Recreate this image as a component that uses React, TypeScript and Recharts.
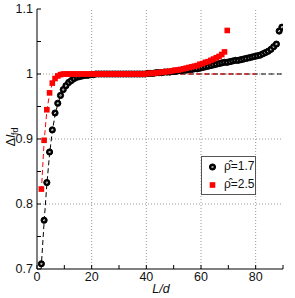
import React from "react";
import { ScatterChart, Scatter, XAxis, YAxis, ReferenceLine } from "recharts";

const ldPositions = [
  1.6, 2.6, 3.6, 4.6, 5.6, 6.6, 7.6, 8.6, 9.6, 10.6, 11.6, 12.6, 13.6, 14.6, 15.6, 16.6, 17.6, 18.6, 19.6, 20.6,
  21.6, 22.6, 23.6, 24.6, 25.6, 26.6, 27.6, 28.6, 29.6, 30.6, 31.6, 32.6, 33.6, 34.6, 35.6, 36.6, 37.6, 38.6, 39.6,
  40.6, 41.6, 42.6, 43.6, 44.6, 45.6, 46.6, 47.6, 48.6, 49.6, 50.6, 51.6, 52.6, 53.6, 54.6, 55.6, 56.6, 57.6, 58.6,
  59.6, 60.6, 61.6, 62.6, 63.6, 64.6, 65.6, 66.6, 67.6, 68.6, 69.6, 70.6, 71.6, 72.6, 73.6, 74.6, 75.6, 76.6, 77.6,
  78.6, 79.6, 80.6, 81.6, 82.6, 83.6, 84.6, 85.6, 86.6, 87.6, 88.6, 89.6,
];

const blackValues = [
  0.708, 0.775, 0.833, 0.88, 0.914, 0.94, 0.955, 0.967, 0.976, 0.982,
  0.987, 0.99, 0.993, 0.995, 0.996, 0.997, 0.998, 0.998, 0.999, 0.999,
  1.0, 1.0, 1.0, 1.0, 1.0, 1.0, 1.0, 1.0, 1.0, 1.0, 1.0, 1.0, 1.0, 1.0, 1.0, 1.0, 1.0, 1.0, 1.0,
  1.001, 1.001, 1.001, 1.002, 1.002, 1.002, 1.003, 1.003, 1.003, 1.004,
  1.004, 1.005, 1.005, 1.006, 1.006, 1.007, 1.007, 1.008, 1.008, 1.009,
  1.01, 1.011, 1.012, 1.013, 1.014, 1.015, 1.016, 1.017, 1.018, 1.018,
  1.019, 1.02, 1.021, 1.021, 1.022, 1.023, 1.024, 1.025, 1.026, 1.027,
  1.028, 1.029, 1.031, 1.033, 1.035, 1.038, 1.042, 1.046, 1.066, 1.072,
];

const redValues = [
  0.823, 0.898, 0.945, 0.971, 0.986, 0.993, 0.997, 0.999, 1.0, 1.0,
  1.0, 1.0, 1.0, 1.0, 1.0, 1.0, 1.0, 1.0, 1.0, 1.0, 1.0, 1.0, 1.0, 1.0, 1.0, 1.0, 1.0, 1.0, 1.0,
  1.0, 1.0, 1.0, 1.0, 1.0, 1.0, 1.0, 1.0, 1.0, 1.0,
  1.001, 1.001, 1.001, 1.002, 1.002, 1.003, 1.003, 1.004, 1.004, 1.005,
  1.006, 1.006, 1.007, 1.008, 1.009, 1.01, 1.011, 1.012, 1.013, 1.015,
  1.016, 1.018, 1.019, 1.021, 1.023, 1.025, 1.027, 1.03, 1.034, 1.067,
];

const blackFitX = [1.5, 2.6, 3.6, 4.6, 5.6, 6.6, 7.6, 8.6, 10, 12, 14, 17, 20, 25, 30, 90];
const blackFitY = [0.7, 0.772, 0.83, 0.877, 0.912, 0.937, 0.954, 0.966, 0.978, 0.988, 0.993, 0.997, 0.999, 1.0, 1.0, 1.0];
const redFitX = [1.6, 2.6, 3.6, 4.6, 5.6, 6.6, 7.6, 9, 11, 14, 80];
const redFitY = [0.82, 0.896, 0.943, 0.97, 0.985, 0.993, 0.997, 0.999, 1.0, 1.0, 1.0];

const xTicks = [0, 10, 20, 30, 40, 50, 60, 70, 80, 90];
const xMajor = [0, 20, 40, 60, 80];
const yTicks = [0.7, 0.75, 0.8, 0.85, 0.9, 0.95, 1.0, 1.05, 1.1];
const yMajorLabels: Record<string, string> = { "0.7": "0.7", "0.8": "0.8", "0.9": "0.9", "1": "1", "1.1": "1.1" };
const xGrid = [20, 40, 60, 80];
const yGrid = [0.8, 0.9, 1.0];

const legendLabels = ["=1.7", "=2.5"];

const zip = (xs: number[], ys: number[]) => ys.map((y, i) => ({ x: xs[i], y }));
const blackPts = zip(ldPositions, blackValues);
const redPts = zip(ldPositions, redValues);
const blackFit = zip(blackFitX, blackFitY);
const redFit = zip(redFitX, redFitY);

const FONT = "'Liberation Sans', Arial, Helvetica, sans-serif";

const BlackMarker = (p: any) => {
  const { cx, cy } = p;
  if (cx == null || cy == null) return <g />;
  return (
    <g>
      <circle cx={cx} cy={cy} r={3.1} fill="#000" stroke="#000" strokeWidth={1} />
      <circle cx={cx} cy={cy} r={1.1} fill="#fff" />
      <line x1={cx - 1.2} y1={cy - 1.2} x2={cx + 1.2} y2={cy + 1.2} stroke="#000" strokeWidth={0.6} />
    </g>
  );
};

const RedMarker = (p: any) => {
  const { cx, cy } = p;
  if (cx == null || cy == null) return <g />;
  return <rect x={cx - 2.8} y={cy - 2.8} width={5.6} height={5.6} fill="#ff0000" />;
};

const NoMarker = () => <g />;

const YLabel = (p: any) => {
  const vb = p.viewBox || { x: 0, y: 9, width: 37, height: 260 };
  const x = 15;
  const y = vb.y + vb.height / 2 - 2;
  return (
    <text
      x={x}
      y={y}
      transform={`rotate(-90, ${x}, ${y})`}
      textAnchor="middle"
      fontFamily={FONT}
      fontSize={13}
      fill="#111"
    >
      <tspan>Δ</tspan>
      <tspan fontStyle="italic">l</tspan>
      <tspan fontSize={9} dy={3}>fd</tspan>
    </text>
  );
};

const XLabel = (p: any) => {
  const vb = p.viewBox || { x: 37, y: 269, width: 246, height: 29 };
  return (
    <text
      x={vb.x + vb.width / 2 + 1}
      y={vb.y + 24}
      textAnchor="middle"
      fontFamily={FONT}
      fontSize={12.5}
      fontStyle="italic"
      fill="#111"
    >
      L/d
    </text>
  );
};

const tickStyle = { fontSize: 12.5, fill: "#111", fontFamily: FONT };

export default function App() {
  return (
    <div style={{ position: "absolute", left: 0, top: 0, width: 295, height: 298, background: "#fff" }}>
      <ScatterChart width={295} height={298} margin={{ top: 9, right: 12, left: 0, bottom: 0 }}>
        <XAxis
          xAxisId={0}
          type="number"
          dataKey="x"
          domain={[0, 90]}
          ticks={xTicks}
          interval={0}
          allowDataOverflow
          height={29}
          tickSize={-4}
          tickMargin={7}
          stroke="#000"
          tickFormatter={(v: number) => (xMajor.includes(v) ? String(v) : "")}
          tick={tickStyle}
          label={<XLabel />}
        />
        <XAxis
          xAxisId="top"
          orientation="top"
          type="number"
          dataKey="x"
          domain={[0, 90]}
          ticks={xTicks}
          interval={0}
          height={0}
          tickSize={-4}
          tick={false}
          stroke="#000"
        />
        <YAxis
          yAxisId={0}
          type="number"
          dataKey="y"
          domain={[0.7, 1.1]}
          ticks={yTicks}
          interval={0}
          allowDataOverflow
          width={37}
          tickSize={-4}
          tickMargin={8}
          stroke="#000"
          tickFormatter={(v: number) => yMajorLabels[String(Math.round(v * 100) / 100)] || ""}
          tick={tickStyle}
          label={<YLabel />}
        />
        <YAxis
          yAxisId="right"
          orientation="right"
          type="number"
          dataKey="y"
          domain={[0.7, 1.1]}
          ticks={yTicks}
          interval={0}
          width={0}
          tickSize={-4}
          tick={false}
          stroke="#000"
        />
        {xGrid.map((v) => (
          <ReferenceLine key={"gx" + v} x={v} stroke="#9a9a9a" strokeDasharray="1 2" strokeWidth={1} />
        ))}
        {yGrid.map((v) => (
          <ReferenceLine key={"gy" + v} y={v} stroke="#9a9a9a" strokeDasharray="1 2" strokeWidth={1} />
        ))}
        <Scatter
          data={blackFit}
          line={{ stroke: "#000", strokeDasharray: "5 3", strokeWidth: 1 }}
          lineType="joint"
          shape={NoMarker}
          isAnimationActive={false}
        />
        <Scatter
          data={redFit}
          line={{ stroke: "#ff0000", strokeDasharray: "5 3", strokeWidth: 1 }}
          lineType="joint"
          shape={NoMarker}
          isAnimationActive={false}
        />
        <Scatter data={blackPts} shape={BlackMarker} isAnimationActive={false} />
        <Scatter data={redPts} shape={RedMarker} isAnimationActive={false} />
      </ScatterChart>
      <div
        style={{
          position: "absolute",
          left: 201,
          top: 156,
          width: 53,
          height: 37,
          border: "1px solid #555",
          background: "#fff",
          fontFamily: FONT,
          fontSize: 12,
          color: "#111",
        }}
      >
        <svg width={14} height={36} style={{ position: "absolute", left: 4, top: 0 }}>
          <BlackMarker cx={6.5} cy={10} />
          <RedMarker cx={6.5} cy={28} />
        </svg>
        {legendLabels.map((t, i) => (
          <div
            key={t}
            style={{ position: "absolute", left: 22, top: i === 0 ? 2 : 20, lineHeight: "14px", whiteSpace: "nowrap" }}
          >
            {"ρ\u0302" + t}
          </div>
        ))}
      </div>
    </div>
  );
}
